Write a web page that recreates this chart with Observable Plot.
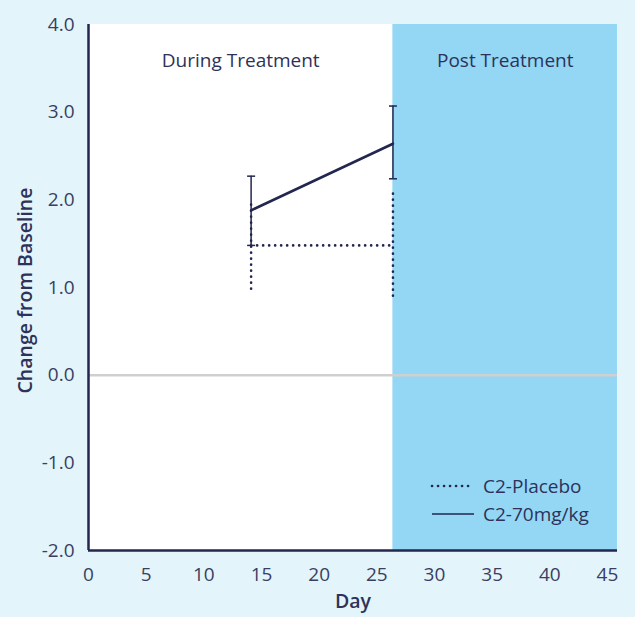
<!DOCTYPE html>
<html>
<head>
<meta charset="utf-8">
<script src="https://cdn.jsdelivr.net/npm/d3@7"></script>
<script src="https://cdn.jsdelivr.net/npm/@observablehq/plot@0.6"></script>
<style>
  html, body { margin: 0; padding: 0; background: #e3f4fb; }
  #wrap { position: relative; width: 635px; height: 617px; font-family: "Open Sans", sans-serif; }
  #legend { position: absolute; left: 430px; top: 472px; color: #2e3258; font-size: 19px; line-height: 28px; }
  #legend div { display: flex; align-items: center; }
  #legend svg { margin-right: 7px; }
</style>
</head>
<body>
<div id="wrap"></div>
<script>
// Regions (days)
const regionNames = ["During Treatment", "Post Treatment"];
const regionStart = [0, 26.4];
const regionEnd = [26.4, 45.87];
const regionFill = ["#ffffff", "#93d7f5"];

// Series
const days = [14.1, 26.4];
const placeboMean = [1.48, 1.48];
const placeboLow = [0.98, 0.9];
const placeboHigh = [1.98, 2.1];
const doseMean = [1.88, 2.64];
const doseLow = [1.48, 2.24];
const doseHigh = [2.27, 3.07];

const xTicks = [0, 5, 10, 15, 20, 25, 30, 35, 40, 45];
const yTicks = [-2, -1, 0, 1, 2, 3, 4];

const navy = "#23264f";
const textColor = "#2e3258";
const tickColor = "#3a3e62";

const regions = regionNames.map((n, i) => ({name: n, x1: regionStart[i], x2: regionEnd[i], fill: regionFill[i]}));
const placebo = days.map((d, i) => ({day: d, mean: placeboMean[i], lo: placeboLow[i], hi: placeboHigh[i]}));
const dose = days.map((d, i) => ({day: d, mean: doseMean[i], lo: doseLow[i], hi: doseHigh[i]}));
const capData = dose.flatMap(d => [{day: d.day, v: d.lo}, {day: d.day, v: d.hi}]);

const capSymbol = { draw(ctx, size) { ctx.moveTo(-4, 0); ctx.lineTo(4, 0); } };
const dotted = {stroke: navy, strokeWidth: 2.6, strokeDasharray: "0.1,5.9", strokeLinecap: "round"};
const fmtY = v => v.toFixed(1);

const chart = Plot.plot({
  width: 635,
  height: 617,
  marginLeft: 88,
  marginRight: 18,
  marginTop: 24,
  marginBottom: 67,
  style: {fontFamily: "Open Sans, sans-serif", background: "transparent", color: textColor, fontSize: "19px"},
  x: {domain: [0, 45.87], ticks: xTicks},
  y: {domain: [-2, 4], ticks: yTicks},
  marks: [
    Plot.rectY(regions, {x1: "x1", x2: "x2", y1: -2, y2: 4, fill: "fill"}),
    Plot.ruleY([0], {stroke: "#cfcfcf", strokeWidth: 2.5}),
    Plot.text(regions, {x: d => (d.x1 + d.x2) / 2, text: "name", frameAnchor: "top", dy: 29, fontSize: 19, fill: textColor}),
    // placebo
    Plot.ruleX(placebo, {x: "day", y1: "lo", y2: "hi", ...dotted}),
    Plot.line(placebo, {x: "day", y: "mean", ...dotted}),
    // dose
    Plot.ruleX(dose, {x: "day", y1: "lo", y2: "hi", stroke: navy, strokeWidth: 1.5}),
    Plot.dot(capData, {x: "day", y: "v", symbol: capSymbol, stroke: navy, strokeWidth: 1.5, fill: "none"}),
    Plot.line(dose, {x: "day", y: "mean", stroke: navy, strokeWidth: 2.6}),
    // axes
    Plot.axisX({ticks: xTicks, tickSize: 0, tickPadding: 17, fontSize: 19, label: null, fill: tickColor}),
    Plot.axisY({ticks: yTicks, tickSize: 0, tickPadding: 14, fontSize: 19, label: null, tickFormat: fmtY, fill: tickColor}),
    Plot.ruleX([0], {stroke: navy, strokeWidth: 2.5}),
    Plot.ruleY([-2], {stroke: navy, strokeWidth: 2.5}),
    Plot.text(["Change from Baseline"], {frameAnchor: "left", textAnchor: "middle", rotate: -90, dx: -63, dy: 3, fontSize: 19.5, fontWeight: 600, fill: textColor}),
    Plot.text(["Day"], {frameAnchor: "bottom", dy: 57, fontSize: 19.5, fontWeight: 600, fill: textColor})
  ]
});

const wrap = document.getElementById("wrap");
wrap.appendChild(chart);

const legendItems = [
  {label: "C2-Placebo", dash: "0.1,5.9", width: 2.6, cap: "round"},
  {label: "C2-70mg/kg", dash: null, width: 1.4, cap: "butt"}
];
const legend = document.createElement("div");
legend.id = "legend";
legendItems.forEach(it => {
  const row = document.createElement("div");
  row.innerHTML = `<svg width="46" height="10"><line x1="2" x2="44" y1="5" y2="5" stroke="${navy}" stroke-width="${it.width}" ${it.dash ? `stroke-dasharray="${it.dash}"` : ""} stroke-linecap="${it.cap}"/></svg><span>${it.label}</span>`;
  legend.appendChild(row);
});
wrap.appendChild(legend);
</script>
</body>
</html>
